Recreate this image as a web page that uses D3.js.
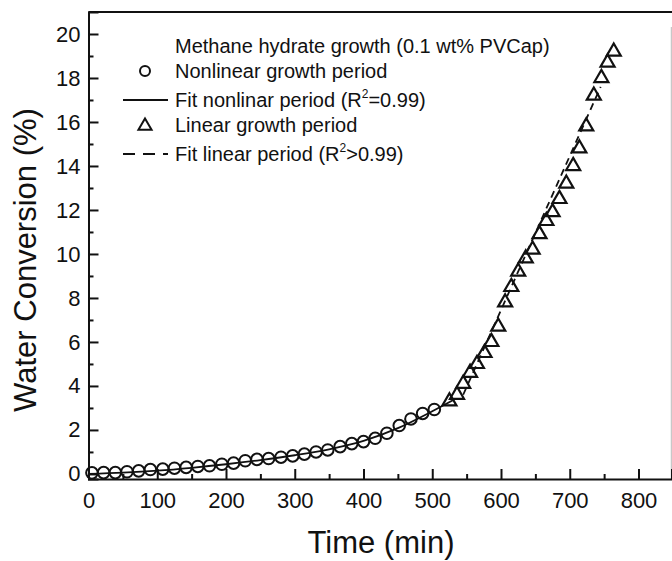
<!DOCTYPE html>
<html><head><meta charset="utf-8">
<script src="https://cdn.jsdelivr.net/npm/d3@7"></script>
<style>body{margin:0;background:#fff} svg text{font-family:"Liberation Sans",Arial,sans-serif;fill:#111}</style>
</head><body><svg id="c" width="672" height="561"></svg>
<script>
// ---- data ----
const nonlinearTime = [5,22,39,56,73,90,108,125,142,159,176,194,211,228,245,262,280,297,314,331,348,366,383,400,417,434,452,469,486,503];
const nonlinearConv = [0.05,0.06,0.06,0.10,0.14,0.20,0.22,0.26,0.30,0.34,0.37,0.44,0.49,0.60,0.66,0.70,0.76,0.82,0.90,1.00,1.09,1.24,1.38,1.47,1.62,1.85,2.20,2.50,2.75,2.93];
const linearTime = [525,536,545,555,565,576,586,596,606,615,625,636,646,656,666,675,685,695,705,714,724,735,746,755,764];
const linearConv = [3.3,3.6,4.1,4.6,5.0,5.5,6.0,6.7,7.8,8.5,9.2,9.8,10.2,10.9,11.5,11.9,12.5,13.2,14.0,14.8,15.8,17.2,18.0,18.7,19.2];
const fitNonlinearTime = [0,50,100,150,200,250,300,350,400,450,500,530];
const fitNonlinearConv = [0.0,0.06,0.15,0.28,0.44,0.63,0.85,1.12,1.50,2.08,2.85,3.35];
const fitLinearTime = [545,745];
const fitLinearConv = [3.6,17.6];
const xTickValues = [0,100,200,300,400,500,600,700,800];
const xMinorTicks = [50,150,250,350,450,550,650,750];
const yTickValues = [0,2,4,6,8,10,12,14,16,18,20];
const yMinorTicks = [1,3,5,7,9,11,13,15,17,19];
const legendTitle = "Methane hydrate growth (0.1 wt% PVCap)";
const legendItems = ["Nonlinear growth period", "Fit nonlinar period (R", "Linear growth period", "Fit linear period (R"];
const xTitle = "Time (min)";
const yTitle = "Water Conversion (%)";

// ---- layout ----
const L = 88.5, R = 671.5, T = 12, B = 479;
const svg = d3.select("#c");
const x = d3.scaleLinear().domain([0, 848]).range([L, R]);
const y = d3.scaleLinear().domain([-0.23, 21.0]).range([B, T]);

// frame (top dark, right light as in reference)
svg.append("line").attr("x1", L).attr("x2", R + 1).attr("y1", T).attr("y2", T)
  .attr("stroke", "#111").attr("stroke-width", 2);
svg.append("line").attr("x1", R).attr("x2", R).attr("y1", T + 15).attr("y2", B)
  .attr("stroke", "#c8c8c8").attr("stroke-width", 1.5);

// x axis
const xAxis = svg.append("g").attr("transform", `translate(0,${B})`)
  .call(d3.axisBottom(x).tickValues(xTickValues).tickSize(-10).tickPadding(19).tickFormat(d3.format("d")));
svg.append("g").attr("transform", `translate(0,${B})`)
  .call(d3.axisBottom(x).tickValues(xMinorTicks).tickSize(-5).tickFormat(""))
  .call(g => g.select(".domain").remove());
// y axis
const yAxis = svg.append("g").attr("transform", `translate(${L},0)`)
  .call(d3.axisLeft(y).tickValues(yTickValues).tickSize(-10).tickPadding(19).tickFormat(d3.format("d")));
svg.append("g").attr("transform", `translate(${L},0)`)
  .call(d3.axisLeft(y).tickValues(yMinorTicks).tickSize(-5).tickFormat(""))
  .call(g => g.select(".domain").remove());

svg.selectAll(".domain").attr("stroke", "#111").attr("stroke-width", 2);
svg.selectAll(".tick line").attr("stroke", "#111").attr("stroke-width", 2);
xAxis.selectAll(".tick text").attr("font-size", 22).attr("dy", "0.71em").attr("y", 13);
yAxis.selectAll(".tick text").attr("font-size", 22).attr("x", -8);

// axis titles
svg.append("text").attr("x", 381).attr("y", 553).attr("text-anchor", "middle")
  .attr("font-size", 31).text(xTitle);
svg.append("text").attr("transform", "translate(36,260) rotate(-90)").attr("text-anchor", "middle")
  .attr("font-size", 31).text(yTitle);

// fit lines
const line = d3.line().x(d => x(d[0])).y(d => y(d[1])).curve(d3.curveMonotoneX);
svg.append("path").datum(fitNonlinearTime.map((t, i) => [t, fitNonlinearConv[i]]))
  .attr("d", line).attr("fill", "none").attr("stroke", "#111").attr("stroke-width", 1.8);

// markers
svg.append("g").selectAll("circle").data(nonlinearTime.map((t, i) => [t, nonlinearConv[i]]))
  .join("circle").attr("cx", d => x(d[0])).attr("cy", d => y(d[1])).attr("r", 5.8)
  .attr("fill", "none").attr("stroke", "#111").attr("stroke-width", 2);
const tri = d3.symbol().type(d3.symbolTriangle).size(85);
svg.append("g").selectAll("path").data(linearTime.map((t, i) => [t, linearConv[i]]))
  .join("path").attr("d", tri).attr("transform", d => `translate(${x(d[0])},${y(d[1])})`)
  .attr("fill", "none").attr("stroke", "#111").attr("stroke-width", 2.2);

svg.append("path").datum(fitLinearTime.map((t, i) => [t, fitLinearConv[i]]))
  .attr("d", d3.line().x(d => x(d[0])).y(d => y(d[1])))
  .attr("fill", "none").attr("stroke", "#111").attr("stroke-width", 1.8).attr("stroke-dasharray", "7,5");

// legend
const lg = svg.append("g").attr("font-size", 20);
const tx = 175;
lg.append("text").attr("x", tx).attr("y", 53).attr("font-size", 20).text(legendTitle);
lg.append("circle").attr("cx", 145).attr("cy", 71).attr("r", 5).attr("fill", "none").attr("stroke", "#111").attr("stroke-width", 2);
lg.append("text").attr("x", tx).attr("y", 78).attr("font-size", 20).text(legendItems[0]);
lg.append("line").attr("x1", 123).attr("x2", 168).attr("y1", 100).attr("y2", 100).attr("stroke", "#111").attr("stroke-width", 1.8);
const t3 = lg.append("text").attr("x", tx).attr("y", 107).attr("font-size", 20);
t3.append("tspan").text(legendItems[1]);
t3.append("tspan").attr("font-size", 12).attr("dy", -9).text("2");
t3.append("tspan").attr("dy", 9).text("=0.99)");
lg.append("path").attr("d", d3.symbol().type(d3.symbolTriangle).size(75)).attr("transform", "translate(145,126)").attr("fill", "none").attr("stroke", "#111").attr("stroke-width", 2);
lg.append("text").attr("x", tx).attr("y", 132).attr("font-size", 20).text(legendItems[2]);
lg.append("line").attr("x1", 123).attr("x2", 168).attr("y1", 154).attr("y2", 154).attr("stroke", "#111").attr("stroke-width", 1.8).attr("stroke-dasharray", "12,8");
const t5 = lg.append("text").attr("x", tx).attr("y", 161).attr("font-size", 20);
t5.append("tspan").text(legendItems[3]);
t5.append("tspan").attr("font-size", 12).attr("dy", -9).text("2");
t5.append("tspan").attr("dy", 9).text(">0.99)");
</script></body></html>
